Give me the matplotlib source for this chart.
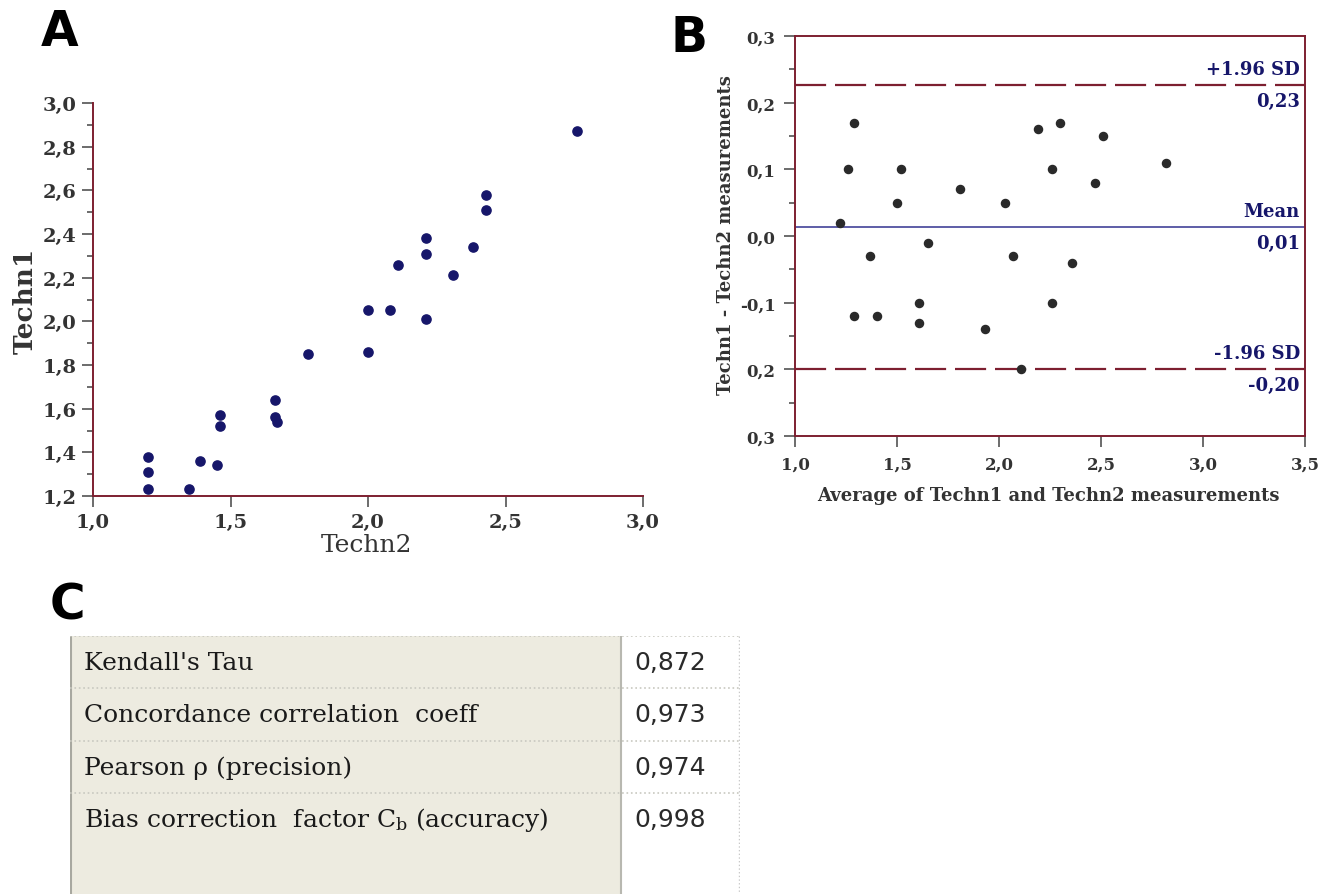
import matplotlib.pyplot as plt
from matplotlib.ticker import MultipleLocator, FuncFormatter, FixedLocator, FixedFormatter
from matplotlib.patches import Rectangle

# Panel A: Techn2 (x) vs Techn1 (y)
techn2 = [1.20, 1.20, 1.20, 1.35, 1.39, 1.45, 1.46, 1.46, 1.66, 1.66, 1.67, 1.78,
          2.00, 2.00, 2.08, 2.11, 2.21, 2.21, 2.21, 2.31, 2.38, 2.43, 2.43, 2.76]
techn1 = [1.38, 1.31, 1.23, 1.23, 1.36, 1.34, 1.57, 1.52, 1.64, 1.56, 1.54, 1.85,
          1.86, 2.05, 2.05, 2.26, 2.38, 2.31, 2.01, 2.21, 2.34, 2.58, 2.51, 2.87]

# Panel B: Bland-Altman
ba_mean = [1.22, 1.26, 1.29, 1.29, 1.37, 1.40, 1.50, 1.52, 1.61, 1.61, 1.65, 1.81,
           1.93, 2.03, 2.07, 2.11, 2.19, 2.26, 2.26, 2.30, 2.36, 2.47, 2.51, 2.82]
ba_diff = [0.02, 0.10, 0.17, -0.12, -0.03, -0.12, 0.05, 0.10, -0.10, -0.13, -0.01, 0.07,
           -0.14, 0.05, -0.03, -0.20, 0.16, 0.10, -0.10, 0.17, -0.04, 0.08, 0.15, 0.11]
mean_diff = 0.014
upper_loa = 0.227
lower_loa = -0.199
b_yticks = [0.3, 0.2, 0.1, 0.0, -0.1, -0.2, -0.3]
b_yticklabels = ['0,3', '0,2', '0,1', '0,0', '-0,1', '0,2', '0,3']  # as printed

# Panel C: statistics table
stat_names = ["Kendall's Tau",
              "Concordance correlation  coeff",
              "Pearson \u03c1 (precision)",
              r"Bias correction  factor C$_\mathrm{b}$ (accuracy)"]
stat_values = ['0,872', '0,973', '0,974', '0,998']

SPINE = '#7d1f30'
NAVY = '#16166a'
GRAY = '#333333'
SERIF = 'DejaVu Serif'

plt.rcParams['mathtext.fontset'] = 'dejavuserif'

W, H = 1328, 895
fig = plt.figure(figsize=(W / 100, H / 100), dpi=100)


def comma(v, pos=None):
    return f'{v:.1f}'.replace('.', ',')


def px_box(left, top, right, bottom):
    # convert a pixel box into figure fractions
    return [left / W, 1 - bottom / H, (right - left) / W, (bottom - top) / H]


# ---------------- Panel A ----------------
axA = fig.add_axes(px_box(93, 104, 643, 497))
axA.scatter(techn2, techn1, s=44, color=NAVY, zorder=3, clip_on=False)
axA.set_xlim(1.0, 3.0)
axA.set_ylim(1.2, 3.0)
for side in ['top', 'right']:
    axA.spines[side].set_visible(False)
for side in ['left', 'bottom']:
    axA.spines[side].set_color(SPINE)
    axA.spines[side].set_linewidth(1.4)
axA.xaxis.set_major_locator(MultipleLocator(0.5))
axA.yaxis.set_major_locator(MultipleLocator(0.2))
axA.yaxis.set_minor_locator(MultipleLocator(0.1))
axA.xaxis.set_major_formatter(FuncFormatter(comma))
axA.yaxis.set_major_formatter(FuncFormatter(comma))
axA.tick_params(axis='both', which='major', length=8, width=1.1, color='#444444',
                labelsize=14, labelcolor=GRAY, pad=4)
axA.tick_params(axis='y', which='minor', length=4, width=1.1, color='#444444')
for lab in axA.get_xticklabels() + axA.get_yticklabels():
    lab.set_fontfamily(SERIF)
    lab.set_fontweight('bold')
axA.set_xlabel('Techn2', fontsize=18, family=SERIF, color=GRAY)
axA.set_ylabel('Techn1', fontsize=19, family=SERIF, fontweight='bold', color=GRAY)
axA.xaxis.set_label_coords(0.498, -0.095)
axA.yaxis.set_label_coords(-0.1, 0.50)

# ---------------- Panel B ----------------
axB = fig.add_axes(px_box(795, 37, 1305, 437))
axB.scatter(ba_mean, ba_diff, s=34, color='#2a2a2a', zorder=3)
axB.axhline(upper_loa, color=SPINE, lw=1.6, dashes=(14, 4))
axB.axhline(lower_loa, color=SPINE, lw=1.6, dashes=(14, 4))
axB.axhline(mean_diff, color='#5050a0', lw=1.3)
axB.set_xlim(1.0, 3.5)
axB.set_ylim(-0.3, 0.3)
for side in axB.spines:
    axB.spines[side].set_color(SPINE)
    axB.spines[side].set_linewidth(1.4)
axB.xaxis.set_major_locator(MultipleLocator(0.5))
axB.xaxis.set_major_formatter(FuncFormatter(comma))
axB.yaxis.set_major_locator(FixedLocator(b_yticks))
axB.yaxis.set_major_formatter(FixedFormatter(b_yticklabels))
axB.yaxis.set_minor_locator(MultipleLocator(0.05))
axB.tick_params(axis='both', which='major', length=8, width=1.1, color='#444444',
                labelsize=12, labelcolor=GRAY, pad=6)
axB.tick_params(axis='y', which='minor', length=4, width=1.1, color='#444444')
for lab in axB.get_xticklabels() + axB.get_yticklabels():
    lab.set_fontfamily(SERIF)
    lab.set_fontweight('bold')
axB.set_xlabel('Average of Techn1 and Techn2 measurements', fontsize=13,
               family=SERIF, fontweight='bold', color=GRAY)
axB.set_ylabel('Techn1 - Techn2 measurements', fontsize=13,
               family=SERIF, fontweight='bold', color=GRAY)
axB.xaxis.set_label_coords(0.496, -0.125)
axB.yaxis.set_label_coords(-0.118, 0.505)

tr = axB.get_yaxis_transform()
line_labels = [(upper_loa, '+1.96 SD'), (mean_diff, 'Mean'), (lower_loa, '-1.96 SD')]
for yv, name in line_labels:
    axB.annotate(name, (0.99, yv), xycoords=tr, xytext=(0, 5), textcoords='offset points',
                 ha='right', va='bottom', fontsize=13, family=SERIF, fontweight='bold', color=NAVY)
    axB.annotate(f'{yv:.2f}'.replace('.', ','), (0.99, yv), xycoords=tr, xytext=(0, -5),
                 textcoords='offset points', ha='right', va='top', fontsize=13,
                 family=SERIF, fontweight='bold', color=NAVY)

# ---------------- Panel C (table) ----------------
t_left, t_top, t_mid, t_right, t_bottom = 70, 637, 621, 740, 895
axC = fig.add_axes(px_box(t_left, t_top, t_right, t_bottom))
axC.set_xlim(0, t_right - t_left)
axC.set_ylim(t_bottom - t_top, 0)
axC.axis('off')
row_h = 52.3
split = t_mid - t_left
axC.add_patch(Rectangle((0, 0), split, t_bottom - t_top, facecolor='#edebe0',
                        edgecolor='none'))
axC.plot([1, 1], [0, t_bottom - t_top], color='#a8a8a0', lw=1.5)
axC.plot([split, split], [0, t_bottom - t_top], color='#b8b8b0', lw=1.5)
axC.plot([t_right - t_left - 1] * 2, [0, t_bottom - t_top], color='#c8c8c8', lw=1.0, ls=':')
for i in range(len(stat_names)):
    axC.plot([0, t_right - t_left], [i * row_h, i * row_h], color='#c8c8c0', lw=1.2, ls=':')
for i, (name, val) in enumerate(zip(stat_names, stat_values)):
    yc = i * row_h + row_h / 2
    axC.text(14, yc, name, ha='left', va='center', fontsize=18, family=SERIF, color='#1a1a1a')
    axC.text(split + 13, yc, val, ha='left', va='center', fontsize=18,
             family='DejaVu Sans', color='#2a2a2a')

# panel letters
for letter, (px, py) in zip('ABC', [(60, 32), (689, 38), (67, 605)]):
    fig.text(px / W, 1 - py / H, letter, ha='center', va='center', fontsize=35,
             fontweight='bold', family='DejaVu Sans', color='black')

fig.savefig('out.png', dpi=100, facecolor='white')
